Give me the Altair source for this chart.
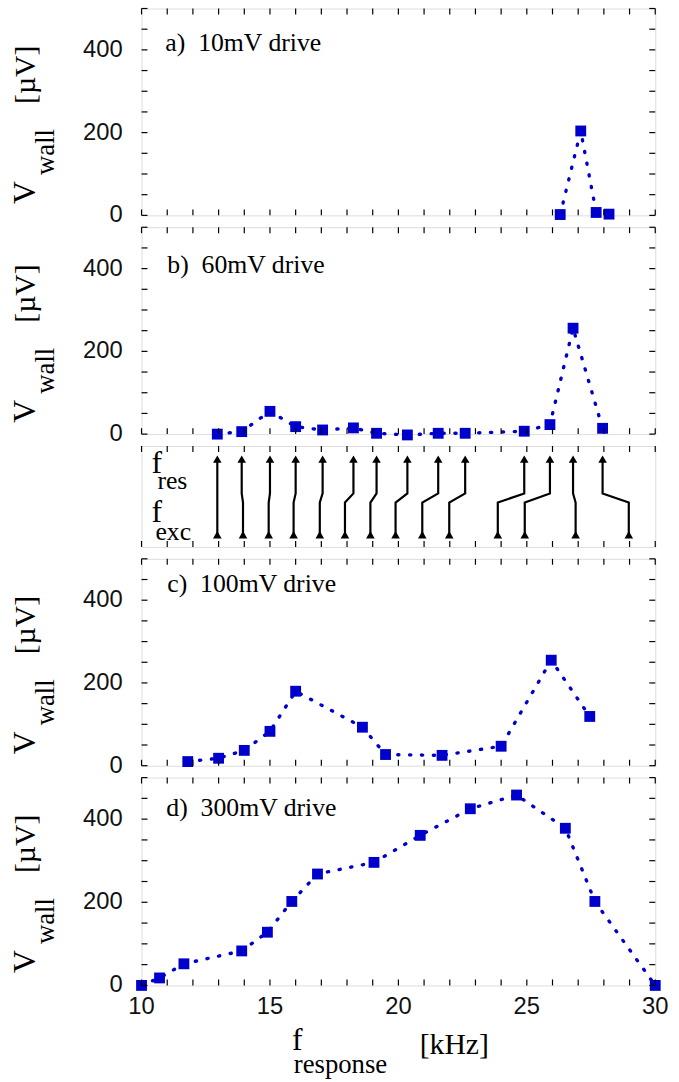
import altair as alt
import pandas as pd

# ---------------- data ----------------
X_DOMAIN = [10, 30]
Y_DOMAIN = [0, 500]

a_f = [26.3, 27.1, 27.7, 28.2]
a_v = [2, 204, 7, 3]

b_f = [12.95, 13.9, 15.0, 16.0, 17.05, 18.25, 19.15, 20.35, 21.55, 22.6, 24.9, 25.9, 26.8, 27.95]
b_v = [0, 6, 55, 18, 10, 15, 2, -2, 2, 2, 7, 23, 256, 14]

c_f = [11.8, 13.0, 14.0, 15.0, 16.0, 18.6, 19.5, 21.7, 24.0, 25.95, 27.45]
c_v = [10, 18, 37, 83, 180, 93, 27, 25, 47, 255, 119]

d_f = [10.0, 10.7, 11.65, 13.9, 14.9, 15.85, 16.85, 19.05, 20.85, 22.8, 24.6, 26.5, 27.65, 30.0]
d_v = [0, 18, 52, 83, 128, 202, 268, 296, 361, 425, 458, 378, 202, 0]

# mode-coupling schematic: excitation (bottom) -> response (top)
exc_f = [12.95, 13.95, 14.95, 15.92, 16.94, 17.92, 18.91, 19.89, 20.93, 21.98, 23.87, 24.92, 26.9, 28.97]
res_f = b_f

NB = "\u00a0"
panel_labels = ["a)" + NB + NB + "10mV drive", "b)" + NB + NB + "60mV drive",
                "c)" + NB + NB + "100mV drive", "d)" + NB + NB + "300mV drive"]

x_tick_values = list(range(10, 31))
y_tick_values = list(range(0, 501, 50))
y_label_values = [0, 200, 400]
x_label_values = [10, 15, 20, 25, 30]

# ---------------- style ----------------
W = 519
BLUE = "#0000cc"
SERIF = "Liberation Serif"
SANS = "Liberation Sans"
TICK = 6

xs = alt.Scale(domain=X_DOMAIN, nice=False, zero=False)
ys = alt.Scale(domain=Y_DOMAIN, nice=False, zero=False)

xtick_df = pd.DataFrame({"xt": x_tick_values})
ytick_df = pd.DataFrame({"yt": y_tick_values})
ylab_df = pd.DataFrame({"yl": y_label_values, "s": [str(v) for v in y_label_values]})
xlab_df = pd.DataFrame({"xl": x_label_values, "s": [str(v) for v in x_label_values]})


def frame_ticks(h, yscale, left_right=True):
    layers = [
        alt.Chart(xtick_df).mark_rule(color="black", strokeWidth=1.2).encode(
            x=alt.X("xt:Q", scale=xs, axis=None), y=alt.value(0), y2=alt.value(TICK)),
        alt.Chart(xtick_df).mark_rule(color="black", strokeWidth=1.2).encode(
            x=alt.X("xt:Q", scale=xs, axis=None), y=alt.value(h - TICK), y2=alt.value(h)),
    ]
    if left_right:
        layers += [
            alt.Chart(ytick_df).mark_rule(color="black", strokeWidth=1.2).encode(
                y=alt.Y("yt:Q", scale=yscale, axis=None), x=alt.value(0), x2=alt.value(TICK)),
            alt.Chart(ytick_df).mark_rule(color="black", strokeWidth=1.2).encode(
                y=alt.Y("yt:Q", scale=yscale, axis=None), x=alt.value(W - TICK), x2=alt.value(W)),
        ]
    return layers


def text_at(txt, x, y, size, font=SERIF, angle=0, align="left", baseline="alphabetic"):
    kw = dict(font=font, fontSize=size, color="black", align=align, baseline=baseline)
    if angle:
        kw["angle"] = angle
    return alt.Chart(pd.DataFrame({"t": [txt]})).mark_text(**kw).encode(
        text="t:N", x=alt.value(x), y=alt.value(y))


def ylabel_layers():
    return [
        text_at("V", -118, 186, 32, angle=270, align="center", baseline="middle"),
        text_at("wall", -96, 145, 27, angle=270, align="center", baseline="middle"),
        text_at("[µV]", -117, 67, 30, angle=270, align="center", baseline="middle"),
    ]


def data_panel(fs, vs, label, lab_x, lab_y, h, bottom_labels=False):
    df = pd.DataFrame({"f": fs, "v": vs})
    line = alt.Chart(df).mark_line(color=BLUE, strokeWidth=3.4, strokeDash=[1.2, 10.8],
                                   strokeCap="round").encode(
        x=alt.X("f:Q", scale=xs, axis=None), y=alt.Y("v:Q", scale=ys, axis=None))
    pts = alt.Chart(df).mark_square(color=BLUE, size=120, opacity=1).encode(
        x=alt.X("f:Q", scale=xs, axis=None), y=alt.Y("v:Q", scale=ys, axis=None))
    ylabels = alt.Chart(ylab_df).mark_text(font=SANS, fontSize=24, color="#111",
                                           align="right", baseline="middle").encode(
        y=alt.Y("yl:Q", scale=ys, axis=None), x=alt.value(-19), text="s:N")
    layers = [line, pts, ylabels] + frame_ticks(h, ys) + ylabel_layers()
    layers.append(text_at(label, lab_x, lab_y, 26))
    if bottom_labels:
        layers.append(alt.Chart(xlab_df).mark_text(font=SANS, fontSize=24, color="#111",
                                                   align="center", baseline="top").encode(
            x=alt.X("xl:Q", scale=xs, axis=None), y=alt.value(h + 10), text="s:N"))
        layers += [
            text_at("f", 152, h + 65, 32),
            text_at("response", 201, h + 88, 27, align="center"),
            text_at("[kHz]", 281, h + 69, 30),
        ]
    return alt.layer(*layers).properties(width=W, height=h)


pa = data_panel(a_f, a_v, panel_labels[0], 24, 43, 209)
pb = data_panel(b_f, b_v, panel_labels[1], 26, 46, 209)
pc = data_panel(c_f, c_v, panel_labels[2], 26, 34, 209)
pdd = data_panel(d_f, d_v, panel_labels[3], 25, 39, 210, bottom_labels=True)

# ---------------- arrow schematic panel ----------------
HA = 102
LOW, BEND1, BEND2, HIGH = 0.12, 0.44, 0.53, 0.87
rows = []
for i, (e, r) in enumerate(zip(exc_f, res_f)):
    for j, (f, lv) in enumerate([(e, LOW), (e, BEND1), (r, BEND2), (r, HIGH)]):
        rows.append({"id": i, "o": j, "f": f, "lv": lv})
arrow_df = pd.DataFrame(rows)
heads_df = pd.DataFrame({"f": exc_f + list(res_f), "lv": [LOW] * len(exc_f) + [HIGH] * len(res_f)})
ya = alt.Scale(domain=[0, 1], nice=False, zero=False)

arrows = alt.Chart(arrow_df).mark_line(color="black", strokeWidth=2.2).encode(
    x=alt.X("f:Q", scale=xs, axis=None), y=alt.Y("lv:Q", scale=ya, axis=None),
    detail="id:N", order="o:Q")
heads = alt.Chart(heads_df).mark_point(shape="triangle-up", filled=True, color="black",
                                        size=75, opacity=1).encode(
    x=alt.X("f:Q", scale=xs, axis=None), y=alt.Y("lv:Q", scale=ya, axis=None))
parrow = alt.layer(
    arrows, heads, *frame_ticks(HA, ya, left_right=False),
    text_at("f", 10, 27, 32), text_at("res", 16, 43, 26),
    text_at("f", 10, 77, 32), text_at("exc", 14, 95, 26),
).properties(width=W, height=HA)

chart = alt.vconcat(pa, pb, parrow, pc, pdd, spacing=12, bounds="flush").properties(
    padding={"left": 8, "top": 1, "right": 10, "bottom": 0}
).configure_view(stroke="black", strokeWidth=1.6).configure(background="white")

chart.save("out.html", embed_options={"renderer": "svg", "actions": False})
